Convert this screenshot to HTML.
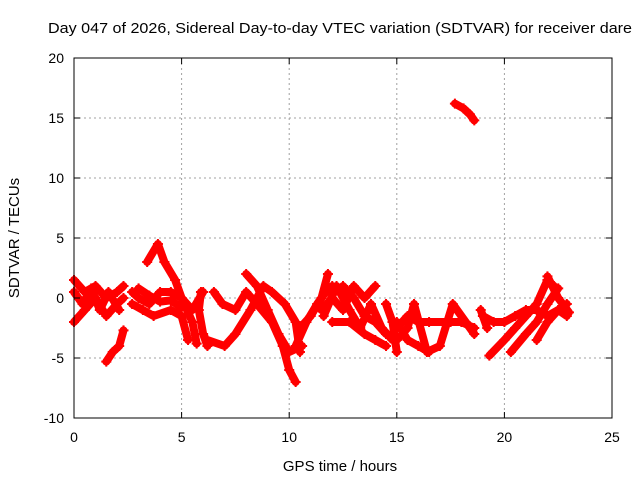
<!DOCTYPE html>
<html><head><meta charset="utf-8"><style>
body{margin:0;background:#fff;}
svg{display:block;font-family:"Liberation Sans",sans-serif;}
</style></head><body>
<svg id="chart" width="640" height="480">
<rect width="640" height="480" fill="#fff"/>
<text x="48" y="33" font-size="15" textLength="584" lengthAdjust="spacingAndGlyphs">Day 047 of 2026, Sidereal Day-to-day VTEC variation (SDTVAR) for receiver dare</text>
<g id="grid"></g><g id="marks"></g><g id="axes"></g>
<text x="340" y="471" font-size="15" text-anchor="middle">GPS time / hours</text>
<text transform="translate(19,238) rotate(-90)" font-size="15" text-anchor="middle">SDTVAR / TECUs</text>
</svg>
<script>
const xTicks=[0,5,10,15,20,25];
const yTicks=[-10,-5,0,5,10,15,20];
const track1=[[0,1.5],[0.5,0.5],[1,1],[1.5,0],[2,0.5],[2.3,1]];
const track2=[[0,-2],[0.5,-1],[1,0],[1.5,-1.5],[2,-0.5],[2.3,0]];
const track2b=[[0,0.5],[0.4,-0.5],[0.8,0.8],[1.2,-1],[1.6,0.5],[2.1,-1]];
const track3=[[1.5,-5.3],[1.8,-4.5],[2.1,-4],[2.3,-2.7]];
const track4=[[2.7,0.5],[3,0],[3.5,-0.5],[4,0.5],[4.5,0.5],[5,0],[5.5,-1],[6,0.5]];
const track5=[[2.7,-0.5],[3.2,-1],[3.7,-1.5],[4.5,-1],[5,-1.5],[5.3,-3.5]];
const track5b=[[3,0.8],[3.5,0.2],[4,-0.3],[4.5,-0.2],[5,-0.8]];
const track6=[[3.4,3],[3.9,4.5],[4.2,3],[4.7,1.5],[5,0],[5.5,-2],[5.7,-3.8]];
const track7=[[5.9,0.5],[5.8,-1],[6,-3],[6.2,-4]];
const track8=[[6.5,0.5],[6.9,-0.5],[7.5,-1],[8,0.5],[8.5,-0.5],[9.2,-2],[9.7,-4],[10,-6],[10.3,-7]];
const track9=[[6.2,-3.5],[7,-4],[7.5,-3],[8.2,-1],[8.8,1],[9.2,0.5],[9.8,-0.5],[10.3,-2],[10.5,-4.5]];
const track10=[[8,2],[8.5,1],[9,-1],[9.5,-3],[10,-4.5],[10.6,-4]];
const track11=[[10.3,-4],[10.8,-2],[11.3,-0.5],[11.7,0.5],[12,1]];
const track12=[[10.5,-2.5],[11,-1.5],[11.5,0],[11.8,2]];
const track13=[[11.5,-1],[12,0],[12.5,-1],[13,1],[13.5,0],[14,1]];
const track14=[[12,-2],[12.8,-2],[13.5,-3],[14,-3.5],[14.5,-4]];
const track15=[[12.5,1],[13,0],[13.5,-1.5],[14,-2],[14.5,-3]];
const track15b=[[11.6,-1.5],[12.2,1],[12.8,-1],[13.3,-2.5],[13.8,-0.5],[14.3,-2.5],[14.8,-3.5]];
const track16=[[14.5,-0.5],[14.8,-2],[15,-4.5]];
const track17=[[15,-3.5],[15.5,-2.5],[15.8,-0.5],[16.4,-4.5],[17,-4],[17.6,-0.5],[18.2,-2],[18.6,-3]];
const track18=[[15,-2.5],[15.5,-1.5],[16,-2],[16.5,-2],[17.5,-2],[18,-2],[18.6,-2.5]];
const track19=[[15,-2],[15.5,-3.5],[16,-4],[16.5,-4.5]];
const track20=[[17.7,16.2],[18.1,15.8],[18.4,15.3],[18.6,14.8]];
const track21=[[19,-1.5],[19.5,-2],[20,-2],[20.5,-1.5],[21,-1],[21.5,-1],[22,-1.5],[22.5,-1],[22.9,-1.5]];
const track22=[[19.3,-4.8],[20,-3.5],[20.5,-2.5],[21,-1.5],[21.5,-0.5],[22,1.5],[22.3,1]];
const track23=[[20.3,-4.5],[21,-3],[21.5,-2],[22,-0.5],[22.5,0.8]];
const track24=[[21.5,-3.5],[22,-2],[22.5,-1],[22.9,-0.5]];
const track25=[[22,1.8],[22.5,0],[23,-1.2]];
const track26=[[18.9,-1],[19.2,-2.5]];
const tracks=[track1,track2,track2b,track3,track4,track5,track5b,track6,track7,track8,track9,track10,track11,track12,track13,track14,track15,track15b,track16,track17,track18,track19,track20,track21,track22,track23,track24,track25,track26];
const L=74,R=612,T=58,B=418;
function sx(h){return L+(h-0)/(25-0)*(R-L);}
function sy(v){return B-(v+10)/30*(B-T);}
const NS="http://www.w3.org/2000/svg";
function mk(tag,attrs,parent){const e=document.createElementNS(NS,tag);for(const k in attrs)e.setAttribute(k,attrs[k]);parent.appendChild(e);return e;}
const grid=document.getElementById('grid'),axes=document.getElementById('axes'),marks=document.getElementById('marks');
xTicks.forEach(t=>{
 if(t>0&&t<25){const g=mk('line',{x1:sx(t),x2:sx(t),y1:T,y2:B,stroke:'#a0a0a0','stroke-dasharray':'2,3'},grid);
 
 }
 const tx=mk('text',{x:sx(t),y:B+24,'font-size':14,'text-anchor':'middle'},axes);tx.textContent=t;
 
 
 mk('line',{x1:sx(t),x2:sx(t),y1:B,y2:B-6,stroke:'#000'},axes);
 mk('line',{x1:sx(t),x2:sx(t),y1:T,y2:T+6,stroke:'#000'},axes);
});
yTicks.forEach(t=>{
 if(t>-10&&t<20){const g=mk('line',{x1:L,x2:R,y1:sy(t),y2:sy(t),stroke:'#a0a0a0','stroke-dasharray':'2,3'},grid);
 
 }
 const tx=mk('text',{x:L-10,y:sy(t)+5,'font-size':14,'text-anchor':'end'},axes);tx.textContent=t;
 
 
 mk('line',{x1:L,x2:L+6,y1:sy(t),y2:sy(t),stroke:'#000'},axes);
 mk('line',{x1:R,x2:R-6,y1:sy(t),y2:sy(t),stroke:'#000'},axes);
});
const fr=mk('rect',{x:L,y:T,width:R-L,height:B-T,fill:'none',stroke:'#000'},axes);


tracks.forEach((tr,i)=>{
 const pts=tr.map(p=>sx(p[0])+','+sy(p[1])).join(' ');
 const pl=mk('polyline',{points:pts,fill:'none',stroke:'#ff0000','stroke-width':8,'stroke-linejoin':'round','stroke-linecap':'round'},marks);
 
 
 tr.forEach(p=>{
  const x=sx(p[0]),y=sy(p[1]);
  const m=mk('path',{d:`M${x-5},${y}H${x+5}M${x},${y-5}V${y+5}`,stroke:'#ff0000','stroke-width':2},marks);
  
  
 });
});
</script>
</body></html>
